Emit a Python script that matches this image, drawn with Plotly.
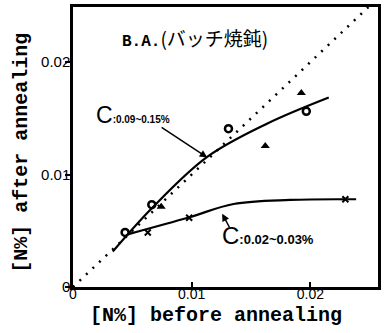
import plotly.graph_objects as go

# data (N% values)
circ_x = [0.00439, 0.00664, 0.01310, 0.01966]
circ_y = [0.00485, 0.00732, 0.01408, 0.01562]
tri_x = [0.00743, 0.01620, 0.01924]
tri_y = [0.00714, 0.01253, 0.01726]
cross_x = [0.00630, 0.00979, 0.02295]
cross_y = [0.00485, 0.00616, 0.00780]

hiC_curve_x = [0.00335, 0.00664, 0.01128, 0.01634, 0.02155]
hiC_curve_y = [0.00315, 0.00700, 0.01155, 0.01452, 0.01685]
loC_curve_x = [0.00467, 0.00980, 0.01353, 0.01830, 0.02310]
loC_curve_y = [0.00470, 0.00620, 0.00738, 0.00774, 0.00780]
loC_ext_x = [0.02310, 0.02450]
loC_ext_y = [0.00780, 0.00782]
diag = [0.0, 0.0252]

xticks = [0, 0.01, 0.02]
xticklabels = ["0", "0.01", "0.02"]
yticks = [0, 0.01, 0.02]
yticklabels = ["0", "0.01", "0.02"]

fig = go.Figure()
fig.add_trace(go.Scatter(x=diag, y=diag, mode="lines",
                         line=dict(color="black", width=2.5, dash="2px,7px")))
fig.add_trace(go.Scatter(x=hiC_curve_x, y=hiC_curve_y, mode="lines",
                         line=dict(color="black", width=2.2, shape="spline")))
fig.add_trace(go.Scatter(x=loC_curve_x, y=loC_curve_y, mode="lines",
                         line=dict(color="black", width=2.2, shape="spline")))
fig.add_trace(go.Scatter(x=loC_ext_x, y=loC_ext_y, mode="lines",
                         line=dict(color="black", width=2, dash="dash")))
fig.add_trace(go.Scatter(x=circ_x, y=circ_y, mode="markers",
                         marker=dict(symbol="circle-open", size=7, color="black",
                                     line=dict(width=2.5, color="black"))))
fig.add_trace(go.Scatter(x=tri_x, y=tri_y, mode="markers",
                         marker=dict(symbol="triangle-up", size=8, color="black")))
fig.add_trace(go.Scatter(x=cross_x, y=cross_y, mode="markers",
                         marker=dict(symbol="x-thin", size=6, color="black",
                                     line=dict(width=2, color="black"))))

axis_common = dict(showgrid=False, zeroline=False, showline=True, linecolor="black",
                   linewidth=2.5, mirror=True, automargin=False,
                   ticklen=5, tickwidth=1.5, tickcolor="black")
fig.update_xaxes(range=[0, 0.0257], tickvals=xticks, ticktext=xticklabels,
                 ticks="inside", ticklabelstandoff=-8,
                 tickfont=dict(family="Liberation Sans", size=14, color="black"), **axis_common)
fig.update_yaxes(range=[0, 0.0249], tickvals=yticks, ticktext=yticklabels,
                 ticks="outside", ticklabelstandoff=-8,
                 tickfont=dict(family="Liberation Sans", size=15, color="black"), **axis_common)

mono = dict(family="Liberation Mono", size=20, color="black")
narrow = "Liberation Sans Narrow, Liberation Sans"
fig.update_layout(
    width=384, height=333, margin=dict(l=73, r=6, t=7, b=46),
    paper_bgcolor="white", plot_bgcolor="white", showlegend=False,
    annotations=[
        dict(text="<b>[N%] before annealing</b>", xref="paper", yref="paper",
             x=0.469, y=-0.1, xanchor="center", yanchor="middle",
             showarrow=False, font=mono),
        dict(text="<b>[N%] after annealing</b>", xref="paper", yref="paper",
             x=-0.167, y=0.48, xanchor="center", yanchor="middle",
             textangle=-90, showarrow=False, font=mono),
        dict(text="<b>B.A.</b><span style='font-family:Noto Sans CJK JP;font-size:19px'>(バッチ焼鈍)</span>",
             x=0.0103, y=0.0222, xref="x", yref="y", showarrow=False,
             font=dict(family="Liberation Mono", size=16, color="black")),
        dict(text="<span style='font-size:23px'>C</span><b>:0.09~0.15%</b>", x=0.00506, y=0.01527,
             xref="x", yref="y", showarrow=False,
             font=dict(family=narrow, size=10, color="black")),
        dict(text="", x=0.01131, y=0.01152, ax=0.00734, ay=0.01429, xref="x", yref="y",
             axref="x", ayref="y", showarrow=True, arrowhead=2, arrowsize=1,
             arrowwidth=1.5, arrowcolor="black"),
        dict(text="<span style='font-size:24px'>C</span><b>:0.02~0.03%</b>", x=0.01646, y=0.00455,
             xref="x", yref="y", showarrow=False,
             font=dict(family=narrow, size=13, color="black")),
        dict(text="", x=0.01257, y=0.00652, ax=0.01325, ay=0.00518, xref="x", yref="y",
             axref="x", ayref="y", showarrow=True, arrowhead=2, arrowsize=1,
             arrowwidth=1.5, arrowcolor="black"),
    ],
)
fig.write_html("out.html", config={"displayModeBar": False},
               post_script="document.body.style.margin='0';document.body.style.overflow='hidden';")
